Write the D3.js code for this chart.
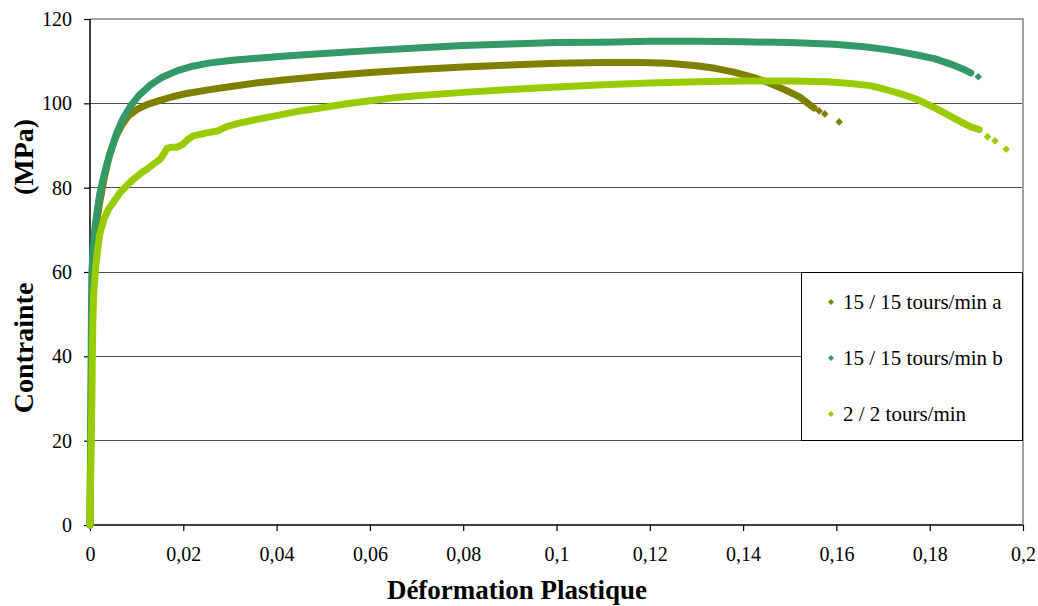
<!DOCTYPE html>
<html><head><meta charset="utf-8">
<script src="https://cdn.jsdelivr.net/npm/d3@7"></script>
<style>body{margin:0;background:#fff}svg{display:block}</style>
</head><body>
<svg id="c" width="1038" height="606"></svg>
<script>
// ---- data ----
const seriesNames = ["15 / 15 tours/min a", "15 / 15 tours/min b", "2 / 2 tours/min"];
const seriesColors = ["#808000", "#339966", "#99CC00"];

const aX = [0,0.0002,0.0004,0.0007,0.0012,0.002,0.003,0.0042,0.0055,0.0068,0.0082,0.01,0.0122,0.015,0.0175,0.021,0.026,0.031,0.036,0.042,0.05,0.06,0.07,0.08,0.09,0.1,0.11,0.118,0.124,0.13,0.134,0.138,0.142,0.1455,0.149,0.152,0.1552,0.1563,0.1575,0.1606];
const aY = [0,25,50,62,70,76,82,88,92,94.8,97,98.5,99.7,100.7,101.5,102.4,103.3,104.1,104.9,105.6,106.4,107.3,108.0,108.6,109.1,109.5,109.7,109.7,109.5,108.9,108.3,107.4,106.2,104.9,103.2,101.6,98.9,98.2,97.5,95.6];

const bX = [0,0.0002,0.0003,0.0004,0.0007,0.0011,0.0016,0.0021,0.0028,0.0036,0.0046,0.0057,0.007,0.0086,0.0105,0.0129,0.0155,0.0186,0.022,0.0258,0.0305,0.0358,0.042,0.05,0.06,0.07,0.08,0.09,0.1,0.11,0.12,0.13,0.14,0.15,0.1595,0.166,0.1705,0.1738,0.1775,0.181,0.1845,0.1872,0.1888,0.1904];
const bY = [0,30,50,60,66,71,75,78.5,82,85.5,89,92.9,96.2,99.2,101.9,104.3,106.2,107.7,108.8,109.6,110.2,110.7,111.2,111.8,112.5,113.1,113.7,114.1,114.4,114.5,114.7,114.7,114.6,114.4,114.0,113.4,112.8,112.2,111.4,110.6,109.3,108.1,107.2,106.3];

const cX = [0,0.0002,0.0004,0.0005,0.0006,0.0008,0.0012,0.0016,0.0021,0.003,0.004,0.005,0.0064,0.0079,0.0095,0.011,0.0122,0.0135,0.015,0.0158,0.0165,0.0175,0.0186,0.0198,0.021,0.0222,0.025,0.0275,0.0293,0.032,0.0358,0.04,0.045,0.05,0.055,0.06,0.065,0.07,0.08,0.09,0.1,0.11,0.12,0.13,0.14,0.15,0.158,0.1631,0.1672,0.1702,0.174,0.1774,0.181,0.1845,0.1872,0.1888,0.1906,0.1924,0.194,0.1964];
const cY = [0,15,30,40,48,55,61,65,69,72.5,75,76.5,78.8,80.5,82.2,83.5,84.4,85.5,86.7,88,89.3,89.6,89.6,90.2,91.5,92.3,93.0,93.5,94.5,95.3,96.2,97.1,98.2,99.0,99.9,100.6,101.3,101.8,102.6,103.3,103.9,104.4,104.8,105.1,105.3,105.3,105.1,104.7,104.2,103.4,102.2,100.9,99.0,96.9,95.3,94.4,93.8,92.1,91.1,89.1];

// number of isolated trailing points in each series (drawn as separate markers)
const isolatedTail = [3, 1, 3];

const xTicks = [0,0.02,0.04,0.06,0.08,0.1,0.12,0.14,0.16,0.18,0.2];
const yTicks = [0,20,40,60,80,100,120];
const xTitle = "Déformation Plastique";
const yTitle1 = "Contrainte";
const yTitle2 = "(MPa)";

// ---- chart ----
const svg = d3.select("#c");
const L = 90, R = 1023, T = 19, B = 525;
const x = d3.scaleLinear().domain([0, 0.2]).range([L, R]);
const y = d3.scaleLinear().domain([0, 120]).range([B, T]);
const font = "'Liberation Serif','Times New Roman',serif";
const fmt = v => String(v).replace(".", ",");

// gridlines
svg.append("g").selectAll("line").data(yTicks.filter(v => v > 0 && v < 120)).join("line")
  .attr("x1", L).attr("x2", R).attr("y1", d => y(d)).attr("y2", d => y(d))
  .attr("stroke", "#505050").attr("stroke-width", 1).attr("shape-rendering", "crispEdges");
// plot border (top & right)
svg.append("path").attr("d", `M${L},${T}H${R}V${B}`).attr("fill", "none")
  .attr("stroke", "#a0a0a0").attr("stroke-width", 1.5).attr("shape-rendering", "crispEdges");

// axes
const yAxis = d3.axisLeft(y).tickValues(yTicks).tickSize(6).tickPadding(12).tickFormat(d => fmt(d));
const gy = svg.append("g").attr("transform", `translate(${L},0)`).call(yAxis);
const xAxis = d3.axisBottom(x).tickValues(xTicks).tickSize(6).tickPadding(16).tickFormat(d => fmt(d));
const gx = svg.append("g").attr("transform", `translate(0,${B})`).call(xAxis);
[gx, gy].forEach(g => {
  g.select(".domain").attr("stroke", "#000").attr("stroke-width", 1.5);
  g.selectAll(".tick line").attr("stroke", "#000").attr("stroke-width", 1.2);
  g.selectAll(".tick text").attr("font-family", font).attr("font-size", 20).attr("fill", "#000");
});
gx.select(".domain").attr("d", `M${L},0H${R}`);
gy.select(".domain").attr("d", `M0,${B}V${T}`);

// series
const seriesData = [[aX, aY], [bX, bY], [cX, cY]];
const line = d3.line().x(d => x(d[0])).y(d => y(d[1]));
const diamond = (cx, cy, r) => `M${cx},${cy - r}L${cx + r},${cy}L${cx},${cy + r}L${cx - r},${cy}Z`;
seriesData.forEach(([xs, ys], i) => {
  const pts = xs.map((v, j) => [v, ys[j]]);
  const n = pts.length - isolatedTail[i];
  const g = svg.append("g");
  g.append("path").datum(pts.slice(0, n)).attr("d", line)
    .attr("fill", "none").attr("stroke", seriesColors[i]).attr("stroke-width", 7)
    .attr("stroke-linejoin", "round").attr("stroke-linecap", "round");
  g.selectAll("path.pt").data(pts.slice(n)).join("path").attr("class", "pt")
    .attr("d", d => diamond(x(d[0]), y(d[1]), 3.8)).attr("fill", seriesColors[i]);
});

// legend
const lg = svg.append("g");
lg.append("rect").attr("x", 801.5).attr("y", 272.5).attr("width", 221).attr("height", 168)
  .attr("fill", "#fff").attr("stroke", "#000").attr("stroke-width", 1);
seriesNames.forEach((name, i) => {
  const cy = 302 + i * 56;
  lg.append("path").attr("d", diamond(831, cy, 3)).attr("fill", seriesColors[i]);
  lg.append("text").attr("x", 843).attr("y", cy + 7).attr("font-family", font)
    .attr("font-size", 21).attr("fill", "#000").text(name);
});

// titles
svg.append("text").attr("x", 517).attr("y", 599).attr("text-anchor", "middle")
  .attr("font-family", font).attr("font-weight", "bold").attr("font-size", 27).text(xTitle);
const yt = svg.append("g").attr("transform", "translate(33,0) rotate(-90)");
yt.append("text").attr("x", -348).attr("y", 0).attr("text-anchor", "middle")
  .attr("font-family", font).attr("font-weight", "bold").attr("font-size", 28).text(yTitle1);
yt.append("text").attr("x", -157).attr("y", 0).attr("text-anchor", "middle")
  .attr("font-family", font).attr("font-weight", "bold").attr("font-size", 28).text(yTitle2);
</script>
</body></html>
